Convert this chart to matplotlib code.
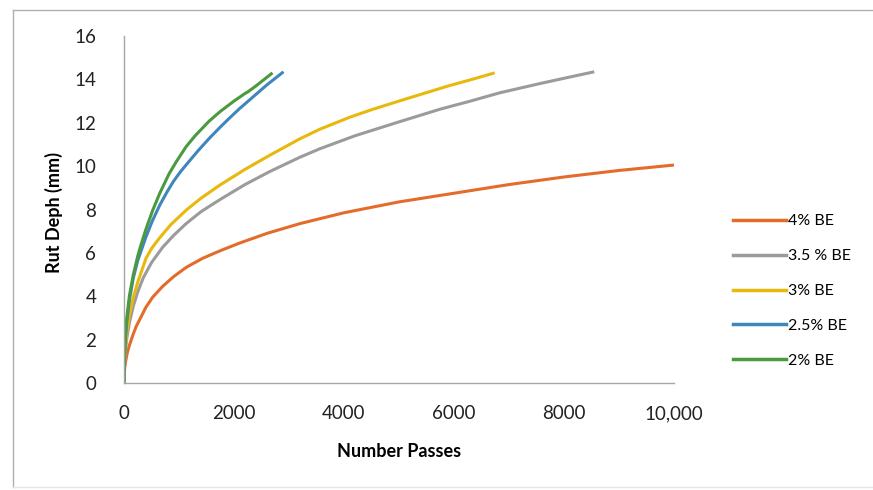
import matplotlib
matplotlib.use("Agg")
import matplotlib.pyplot as plt
from matplotlib.lines import Line2D

# Rut depth (mm) versus number of wheel passes for each binder content
x_4 = [0, 5, 15, 30, 60, 100, 160, 220, 300, 400, 520, 700, 900, 1130, 1430, 1750, 2100,
       2600, 3200, 4000, 5000, 6000, 7000, 8000, 9000, 10000]
y_4 = [0, 0.45, 0.75, 1.0, 1.4, 1.75, 2.2, 2.6, 3.0, 3.5, 3.95, 4.45, 4.9, 5.33, 5.75, 6.1, 6.45,
       6.9, 7.35, 7.85, 8.35, 8.75, 9.15, 9.5, 9.8, 10.05]

x_35 = [0, 5, 12, 25, 50, 100, 170, 250, 350, 500, 700, 900, 1130, 1400, 1740, 2200, 2650,
        3190, 3560, 4200, 5000, 5740, 6300, 6830, 7550, 8000, 8550]
y_35 = [0, 0.6, 1.0, 1.45, 2.05, 2.8, 3.55, 4.2, 4.85, 5.55, 6.25, 6.8, 7.35, 7.9, 8.45, 9.15, 9.75,
        10.4, 10.8, 11.4, 12.04, 12.62, 13.0, 13.38, 13.8, 14.05, 14.35]

x_3 = [0, 5, 12, 25, 50, 100, 170, 250, 400, 500, 650, 850, 1130, 1400, 1740, 2200, 2650,
       3190, 3560, 4100, 4500, 5000, 5450, 5900, 6300, 6740]
y_3 = [0, 0.7, 1.1, 1.65, 2.3, 3.15, 3.95, 4.65, 5.75, 6.2, 6.7, 7.3, 7.97, 8.52, 9.12, 9.85, 10.5,
       11.25, 11.7, 12.25, 12.6, 13.0, 13.35, 13.7, 13.98, 14.3]

x_25 = [0, 5, 12, 25, 50, 100, 170, 250, 400, 520, 650, 780, 900, 1020, 1150, 1350, 1550,
        1750, 1920, 2100, 2350, 2600, 2900]
y_25 = [0, 0.8, 1.3, 2.0, 2.8, 3.85, 4.85, 5.65, 6.74, 7.5, 8.2, 8.8, 9.3, 9.72, 10.12, 10.72, 11.28,
        11.8, 12.22, 12.65, 13.2, 13.75, 14.35]

x_2 = [0, 5, 12, 25, 50, 100, 170, 250, 300, 400, 520, 650, 820, 950, 1130, 1300, 1550,
       1750, 2000, 2200, 2250, 2400, 2550, 2700]
y_2 = [0, 0.85, 1.4, 2.15, 3.0, 4.05, 5.0, 5.85, 6.3, 7.1, 7.95, 8.75, 9.65, 10.2, 10.9, 11.42, 12.08,
       12.52, 13.0, 13.35, 13.42, 13.7, 14.0, 14.3]

series = [
    ("4% BE", x_4, y_4, "#e46c2a"),
    ("3.5 % BE", x_35, y_35, "#9b9b9b"),
    ("3% BE", x_3, y_3, "#e8b80c"),
    ("2.5% BE", x_25, y_25, "#3f86bd"),
    ("2% BE", x_2, y_2, "#4a9a3e"),
]

x_ticks = [0, 2000, 4000, 6000, 8000, 10000]
x_tick_labels = ["0", "2000", "4000", "6000", "8000", "10,000"]
y_ticks = [0, 2, 4, 6, 8, 10, 12, 14, 16]

plt.rcParams["font.family"] = ["Lato", "DejaVu Sans"]

fig = plt.figure(figsize=(8.73, 4.9), dpi=100)
ax = fig.add_axes([124 / 873, 1 - 383 / 490, 550 / 873, 347 / 490])

for label, xs, ys, color in series:
    ax.plot(xs, ys, color=color, lw=2.2, label=label,
            solid_capstyle="butt", solid_joinstyle="round")

ax.set_xlim(0, 10000)
ax.set_ylim(0, 16)
ax.set_xticks(x_ticks)
ax.set_xticklabels(x_tick_labels)
ax.set_yticks(y_ticks)
ax.tick_params(length=0, labelsize=13.5, colors="#222222")
ax.tick_params(axis="x", pad=16)
ax.tick_params(axis="y", pad=20)

for side in ("top", "right"):
    ax.spines[side].set_visible(False)
for side in ("left", "bottom"):
    ax.spines[side].set_color("#a6a6a6")
    ax.spines[side].set_linewidth(1.0)

ax.set_xlabel("Number Passes", fontsize=13, fontweight="bold", labelpad=15)
ax.set_ylabel("Rut Deph (mm)", fontsize=13, fontweight="bold")
ax.yaxis.set_label_coords((63 - 124) / 550, (383 - 212) / 347)

handles = [Line2D([], [], color=c, lw=2.5) for _, _, _, c in series]
labels = [s[0] for s in series]
fig.legend(handles, labels, loc="center left", bbox_to_anchor=(719 / 873, 1 - 291 / 490),
           frameon=False, fontsize=11.5, handlelength=3.3, handletextpad=0.15,
           labelspacing=1.3)

# Outer chart frame
fig.add_artist(plt.Line2D([13 / 873, 13 / 873], [1 - 10 / 490, 1 - 487 / 490],
                          transform=fig.transFigure, color="#b0b0b0", lw=1))
fig.add_artist(plt.Line2D([13 / 873, 1.0], [1 - 10 / 490, 1 - 10 / 490],
                          transform=fig.transFigure, color="#b0b0b0", lw=1))
fig.add_artist(plt.Line2D([13 / 873, 1.0], [1 - 487 / 490, 1 - 487 / 490],
                          transform=fig.transFigure, color="#e6e6e6", lw=1))

fig.savefig("out.png", dpi=100)
